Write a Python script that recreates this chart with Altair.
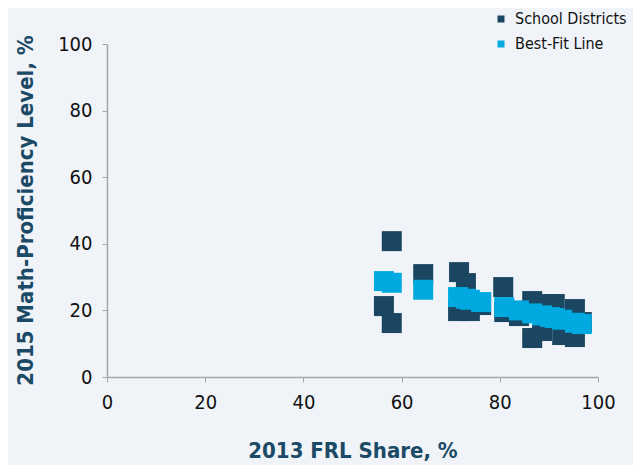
import altair as alt
import pandas as pd

# School districts (x: 2013 FRL share %, y: 2015 math proficiency %)
district_x = [56.4, 58.0, 58.0, 64.4, 71.7, 73.1, 71.5, 73.9, 76.2, 80.7, 80.9,
              83.9, 86.6, 86.6, 88.6, 90.2, 91.2, 92.7, 95.3, 95.3, 96.7]
district_y = [21.3, 40.8, 16.2, 30.9, 31.5, 28.2, 19.8, 19.8, 21.6, 27.0, 19.5,
              18.3, 22.8, 11.7, 13.8, 21.9, 21.9, 12.6, 20.4, 12.0, 16.5]

# Best-fit line points
fit_x = [56.4, 58.0, 64.4, 71.5, 73.1, 73.9, 76.2, 80.9, 83.9, 86.6, 88.6,
         90.2, 91.2, 92.7, 95.3, 96.7]
fit_y = [28.8, 28.3, 26.2, 24.0, 23.5, 23.2, 22.5, 21.0, 20.0, 19.1, 18.5,
         18.0, 17.7, 17.2, 16.3, 15.9]

series_names = ["School Districts", "Best-Fit Line"]
series_colors = ["#1b4661", "#00a9e0"]
ticks = [0, 20, 40, 60, 80, 100]

df = pd.concat([
    pd.DataFrame({"x": district_x, "y": district_y, "series": series_names[0]}),
    pd.DataFrame({"x": fit_x, "y": fit_y, "series": series_names[1]}),
], ignore_index=True)

FONT = "DejaVu Sans Condensed, DejaVu Sans, sans-serif"
TITLE_COLOR = "#1b4a66"

chart = alt.Chart(df).mark_square(size=400, opacity=1).encode(
    x=alt.X("x:Q", scale=alt.Scale(domain=[0, 100], nice=False),
            axis=alt.Axis(values=ticks, title="2013 FRL Share, %", grid=False,
                          labelFlush=False, titleY=73, titleBaseline="middle")),
    y=alt.Y("y:Q", scale=alt.Scale(domain=[0, 100], nice=False),
            axis=alt.Axis(values=ticks, title="2015 Math-Proficiency Level, %", grid=False,
                          labelFlush=False,
                          titleX=-82, titleY=166, titleAngle=-90, titleBaseline="middle",
                          titleAlign="center")),
    color=alt.Color("series:N",
                    scale=alt.Scale(domain=series_names, range=series_colors),
                    legend=alt.Legend(title=None, orient="none", legendX=386, legendY=-33,
                                      symbolType="square", symbolSize=49,
                                      symbolStrokeWidth=0, labelFont=FONT, labelFontSize=16,
                                      labelLimit=300,
                                      labelColor="#111111", rowPadding=9, labelOffset=6)),
).properties(
    width=491, height=333,
    background="#f0f4f8",
    autosize=alt.AutoSizeParams(type="none"),
    padding={"left": 99, "top": 36, "right": 35, "bottom": 88},
).configure_view(
    stroke=None
).configure_axis(
    domainColor="#a6a6a6", tickColor="#a6a6a6", tickSize=5, domainWidth=1.5,
    labelFont=FONT, labelFontSize=20, labelColor="#111111", labelPadding=10,
    titleFont=FONT, titleFontSize=22, titleFontWeight="bold", titleColor=TITLE_COLOR,
)

chart.save("out.html", embed_options={"renderer": "svg", "actions": False})
